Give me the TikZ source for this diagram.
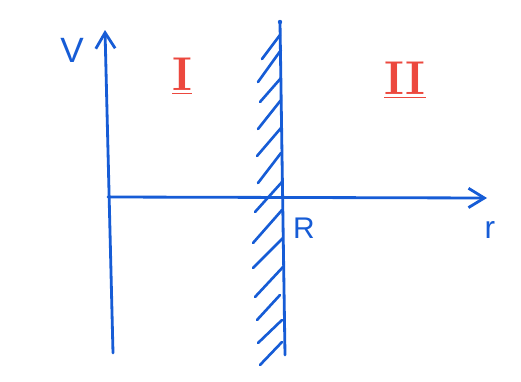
\documentclass[tikz,border=0pt]{standalone}
\usepackage{fontspec}
\setsansfont{Liberation Sans}
\usetikzlibrary{arrows.meta}
\definecolor{penblue}{RGB}{22,92,214}
\definecolor{penred}{RGB}{236,72,62}
\begin{document}
\begin{tikzpicture}[x=0.02cm,y=-0.02cm,
  pen/.style={draw=penblue,line width=1.6pt,line cap=round,line join=round},
  hatchline/.style={draw=penblue,line width=1.5pt,line cap=round},
  axisarrow/.style={-{Straight Barb[length=9pt,width=11pt,line width=1.6pt]}},
  bluelabel/.style={text=penblue,font=\sffamily,inner sep=0pt},
  redlabel/.style={text=penred,font=\bfseries\fontsize{27}{27}\selectfont,inner sep=0pt}]
\useasboundingbox (0,0) rectangle (521,382);
\fill[white] (0,0) rectangle (521,382);
% coordinates
\coordinate (vbot) at (113,353);
\coordinate (vtop) at (105,30);
\coordinate (hleft) at (108,197);
\coordinate (hright) at (487,198);
\coordinate (wtop) at (280,22);
\coordinate (wbot) at (285,355);
% axes
\draw[pen,axisarrow] (vbot) -- (vtop);
\draw[pen,axisarrow] (hleft) -- (hright);
% wall
\draw[pen] (wtop) -- (wbot);
\fill[penblue] (wtop) circle (2.2);
% hatching
\foreach \ax/\ay/\bx/\by in {262/59/280/35, 258/82/281/50, 260/102/281/78,
  258/129/281/100, 257/156/281/128, 258/183/281/153, 255/212/282/182,
  253/243/282/210, 253/268/283/238, 255/297/283/267, 257/320/280/295,
  258/343/282/320, 260/365/282/342}
  \draw[hatchline] (\ax,\ay) -- (\bx,\by);
% labels
\node[bluelabel,font=\sffamily\fontsize{20}{20}\selectfont] (V) at (72,50) {V};
\node[bluelabel,font=\sffamily\fontsize{17}{17}\selectfont] (R) at (304,228) {R};
\node[bluelabel,font=\sffamily\fontsize{18}{18}\selectfont] (r) at (490,230) {r};
\node[redlabel] (I) at (182,76) {\underline{I}};
\node[redlabel] (II) at (405,80) {\underline{II}};
\end{tikzpicture}
\end{document}
